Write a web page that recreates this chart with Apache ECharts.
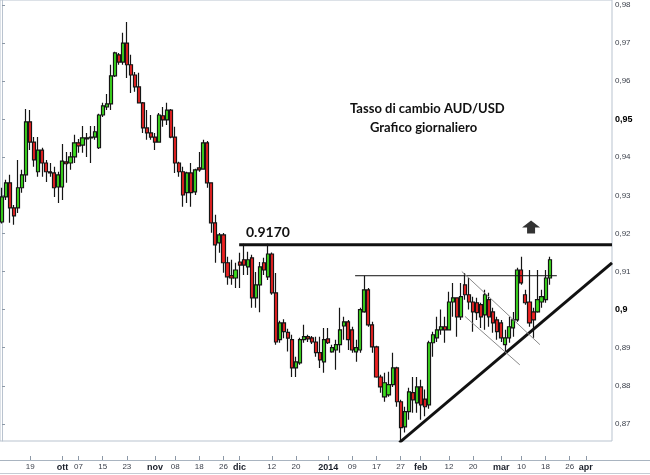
<!DOCTYPE html>
<html>
<head>
<meta charset="utf-8">
<script src="https://cdn.jsdelivr.net/npm/echarts@6/dist/echarts.min.js"></script>
<style>
html,body{margin:0;padding:0;background:#fff;}
#chart{width:650px;height:475px;}
</style>
</head>
<body>
<div id="chart"></div>
<script>
// ---- data (AUD/USD daily) ----
const startDate = '2013-09-10';
const categoryCount = 152;
const opens = [
.9230,.9296,.9333,.9267,.9267,.9320,.9354,.9493,.9440,.9362,
.9419,.9385,.9362,.9359,.9322,.9322,.9388,.9385,.9401,.9438,
.9432,.9451,.9451,.9453,.9425,.9511,.9532,.9540,.9614,.9669,
.9650,.9700,.9643,.9616,.9585,.9543,.9477,.9464,.9453,.9440,
.9509,.9498,.9524,.9453,.9385,.9362,.9307,.9359,.9309,.9372,
.9369,.9438,.9333,.9228,.9175,.9196,.9123,.9089,.9083,.9125,
.9131,.9112,.9136,.9031,.9065,.9123,.9086,.9146,.9044,.8921,
.8965,.8940,.8921,.8847,.8860,.8921,.8929,.8926,.8915,.8887,
.8863,.8923,.8889,.8894,.8908,.8957,.8968,.8947,.8889,.8894,
.8994,.9052,.8960,.8902,.8823,.8771,.8776,.8803,.8847,.8758,
.8692,.8732,.8782,.8755,.8797,.8765,.8750,.8913,.8926,.8947,
.8955,.8947,.9020,.9031,.8981,.9065,.9039,.9020,.9018,.9013,
.8986,.9026,.8994,.8973,.8965,.8908,.8926,.8952,.8973,.9104,
.9039,.9020,.8994,.8994,.9020,.9026,.9083
];
const closes = [
.9296,.9333,.9267,.9246,.9320,.9354,.9493,.9440,.9393,.9419,
.9385,.9362,.9359,.9320,.9354,.9390,.9383,.9401,.9438,.9430,
.9451,.9448,.9453,.9467,.9511,.9535,.9540,.9614,.9674,.9650,
.9700,.9643,.9616,.9585,.9543,.9477,.9464,.9453,.9440,.9511,
.9498,.9524,.9453,.9385,.9362,.9301,.9359,.9307,.9367,.9367,
.9438,.9333,.9228,.9170,.9196,.9123,.9086,.9083,.9104,.9117,
.9117,.9131,.9031,.9065,.9112,.9104,.9146,.9044,.8915,.8965,
.8942,.8925,.8847,.8863,.8921,.8929,.8923,.8915,.8887,.8868,
.8921,.8913,.8900,.8908,.8947,.8968,.8921,.8894,.8900,.9000,
.9052,.8960,.8902,.8823,.8797,.8808,.8803,.8847,.8758,.8690,
.8732,.8784,.8763,.8797,.8750,.8745,.8913,.8934,.8947,.8955,
.8947,.9020,.9031,.8981,.9034,.9039,.9020,.8994,.8992,.8981,
.9039,.8981,.8965,.8942,.8926,.8926,.8955,.8973,.9104,.9070,
.9018,.8965,.8973,.9026,.9034,.9083,.9131
];
const lows = [
.9226,.9288,.9228,.9223,.9254,.9307,.9335,.9419,.9375,.9349,
.9349,.9335,.9349,.9296,.9280,.9288,.9333,.9367,.9385,.9412,
.9412,.9401,.9385,.9446,.9422,.9506,.9524,.9524,.9611,.9643,
.9643,.9608,.9569,.9572,.9543,.9464,.9446,.9446,.9419,.9440,
.9480,.9485,.9450,.9359,.9349,.9270,.9280,.9270,.9301,.9362,
.9367,.9320,.9202,.9123,.9149,.9097,.9065,.9065,.9057,.9057,
.9091,.9091,.9005,.9005,.8993,.9091,.9078,.9039,.8908,.8913,
.8925,.8890,.8823,.8823,.8855,.8913,.8915,.8910,.8876,.8847,
.8834,.8910,.8887,.8842,.8887,.8921,.8894,.8887,.8863,.8887,
.8992,.8955,.8887,.8821,.8782,.8758,.8771,.8797,.8745,.8653,
.8677,.8711,.8729,.8729,.8711,.8720,.8740,.8876,.8915,.8934,
.8913,.8945,.8981,.8929,.8973,.9026,.9000,.8942,.8973,.8952,
.8947,.8955,.8939,.8921,.8915,.8889,.8913,.8929,.8968,.9065,
.9013,.8955,.8926,.8992,.9005,.9018,.9065
];
const highs = [
.9320,.9341,.9354,.9275,.9393,.9367,.9527,.9524,.9453,.9453,
.9425,.9393,.9385,.9375,.9362,.9435,.9414,.9414,.9459,.9448,
.9482,.9464,.9482,.9482,.9514,.9543,.9566,.9643,.9677,.9674,
.9727,.9755,.9669,.9624,.9622,.9545,.9524,.9511,.9464,.9516,
.9532,.9543,.9527,.9480,.9388,.9375,.9362,.9385,.9370,.9414,
.9446,.9443,.9333,.9249,.9201,.9201,.9139,.9131,.9123,.9149,
.9173,.9152,.9144,.9099,.9125,.9136,.9173,.9150,.9096,.8971,
.8975,.8950,.8934,.8876,.8926,.8960,.8934,.8931,.8929,.8929,
.8952,.8952,.8908,.8921,.9005,.8981,.8973,.8955,.8921,.9005,
.9089,.9057,.8968,.8905,.8829,.8834,.8837,.8887,.8850,.8763,
.8745,.8795,.8823,.8823,.8816,.8790,.8918,.8942,.8981,.9000,
.8981,.9047,.9070,.9031,.9070,.9096,.9083,.9034,.9031,.9018,
.9052,.9044,.9005,.8981,.8973,.8947,.8981,.8994,.9110,.9139,
.9052,.9104,.9005,.9104,.9052,.9104,.9139
];
const yTicks = [0.87,0.88,0.89,0.90,0.91,0.92,0.93,0.94,0.95,0.96,0.97,0.98];
const yBoldTicks = [0.90,0.95];
const xTickLabels = [
['2013-09-19','19'],['2013-10-01','ott'],['2013-10-07','07'],['2013-10-15','15'],
['2013-10-23','23'],['2013-11-01','nov'],['2013-11-08','08'],['2013-11-18','18'],
['2013-11-26','26'],['2013-12-02','dic'],['2013-12-12','12'],['2013-12-20','20'],
['2014-01-01','2014'],['2014-01-09','09'],['2014-01-17','17'],['2014-01-27','27'],
['2014-02-03','feb'],['2014-02-12','12'],['2014-02-20','20'],['2014-03-03','mar'],
['2014-03-10','10'],['2014-03-18','18'],['2014-03-26','26'],['2014-04-01','apr']
];
const boldXLabels = ['ott','nov','dic','2014','feb','mar','apr'];
// annotation lines in data space: [categoryIndex, price]
const resistanceLevel = 0.917;
const resistanceLine = [[58.9, resistanceLevel],[151.5, resistanceLevel]];
const thinResistance = [[87.7, 0.9089],[137.8, 0.9089]];
const triangleLine = [[98.7, 0.8651],[151.5, 0.9123]];
const channelUpper = [[114.2, 0.9100],[133.6, 0.8908]];
const channelLower = [[115.0, 0.8982],[128.6, 0.8855]];
const arrowPoint = [[131.4, 0.9217]];

// ---- build categories (weekdays) ----
const dates = [];
(function(){
  const d = new Date(startDate + 'T00:00:00Z');
  while (dates.length < categoryCount) {
    const wd = d.getUTCDay();
    if (wd !== 0 && wd !== 6) dates.push(d.toISOString().slice(0,10));
    d.setUTCDate(d.getUTCDate() + 1);
  }
})();
const labelMap = {};
xTickLabels.forEach(p => { labelMap[p[0]] = p[1]; });
const candleData = opens.map((o,i) => [o, closes[i], lows[i], highs[i]]);

const chart = echarts.init(document.getElementById('chart'), null, {renderer:'canvas'});
const lineStyleSeries = (name, data, color, width) => ({
  name, type:'line', xAxisIndex:1, yAxisIndex:0, data, symbol:'none', silent:true,
  lineStyle:{color, width}, z:5, animation:false
});
chart.setOption({
  animation:false,
  grid:{left:0, top:0, width:612, height:441, show:true, borderColor:'#b9c3cf', borderWidth:1, backgroundColor:'#fff'},
  xAxis:[{
    type:'category', data:dates, boundaryGap:true, position:'bottom', offset:19,
    axisLine:{show:false},
    axisTick:{show:true, inside:true, length:4, alignWithLabel:true,
      interval:(idx,val)=>labelMap[val]!==undefined, lineStyle:{color:'#8c98a6'}},
    axisLabel:{show:true, margin:3, fontFamily:'Liberation Sans, Arial, sans-serif', fontSize:8, color:'#3a3f4a',
      interval:(idx,val)=>labelMap[val]!==undefined,
      formatter:(val)=>{const t=labelMap[val]; if(t===undefined) return ''; return boldXLabels.indexOf(t)>=0?'{b|'+t+'}':t;},
      rich:{b:{fontWeight:'bold', fontSize:9, color:'#1a1f2a', fontFamily:'Liberation Sans, Arial, sans-serif'}}},
    splitLine:{show:false}
  },{
    type:'value', min:-0.5, max:categoryCount-0.5, show:false
  }],
  yAxis:[{
    type:'value', position:'right', min:0.8655, max:0.9813, scale:true,
    axisLine:{show:true, lineStyle:{color:'#b9c3cf'}},
    axisTick:{show:true, inside:false, length:3, customValues:yTicks, lineStyle:{color:'#8c98a6'}},
    axisLabel:{show:true, margin:3, customValues:yTicks, fontFamily:'Liberation Sans, Arial, sans-serif', fontSize:8, color:'#3a3f4a',
      formatter:(v)=>{
        const r=Math.round(v*100)/100;
        if(Math.abs(r-v)>1e-6) return '';
        const s=String(r).replace('.',',');
        return yBoldTicks.some(b=>Math.abs(b-r)<1e-6)?'{b|'+s+'}':s;
      },
      rich:{b:{fontWeight:'bold', fontSize:9, color:'#000', fontFamily:'Liberation Sans, Arial, sans-serif'}}},
    splitLine:{show:false}
  }],
  series:[
    {
      name:'AUD/USD', type:'candlestick', xAxisIndex:0, yAxisIndex:0, data:candleData,
      barWidth:3.6, silent:true,
      itemStyle:{color:'#3cdc1e', color0:'#ee2222', borderColor:'#151515', borderColor0:'#151515', borderWidth:1.2},
      z:3
    },
    lineStyleSeries('res', resistanceLine, '#111', 3),
    lineStyleSeries('thin', thinResistance, '#111', 1),
    lineStyleSeries('tri', triangleLine, '#111', 3),
    lineStyleSeries('chU', channelUpper, '#8a8a8a', 1),
    lineStyleSeries('chL', channelLower, '#8a8a8a', 1),
    {
      name:'arrow', type:'scatter', xAxisIndex:1, yAxisIndex:0, data:arrowPoint, silent:true,
      symbol:'path://M9,0 L18,7 L13,7 L13,13 L5,13 L5,7 L0,7 Z', symbolSize:[18,13],
      itemStyle:{color:'#000'}, z:6
    }
  ],
  graphic:[
    {type:'line', shape:{x1:0, y1:460.5, x2:650, y2:460.5}, style:{stroke:'#a9b4c0', lineWidth:1}, silent:true},
    {type:'line', shape:{x1:0, y1:473.5, x2:650, y2:473.5}, style:{stroke:'#c5ccd4', lineWidth:1}, silent:true},
    {type:'text', left:246, top:225, style:{text:'0.9170', font:'bold 14px Lato, "Open Sans", sans-serif', fill:'#111'}, silent:true},
    {type:'text', left:350, top:102, style:{text:'Tasso di cambio AUD/USD', font:'bold 13px Lato, "Open Sans", sans-serif', fill:'#111'}, silent:true},
    {type:'text', left:370, top:121, style:{text:'Grafico giornaliero', font:'bold 13px Lato, "Open Sans", sans-serif', fill:'#111'}, silent:true}
  ]
});
</script>
</body>
</html>
